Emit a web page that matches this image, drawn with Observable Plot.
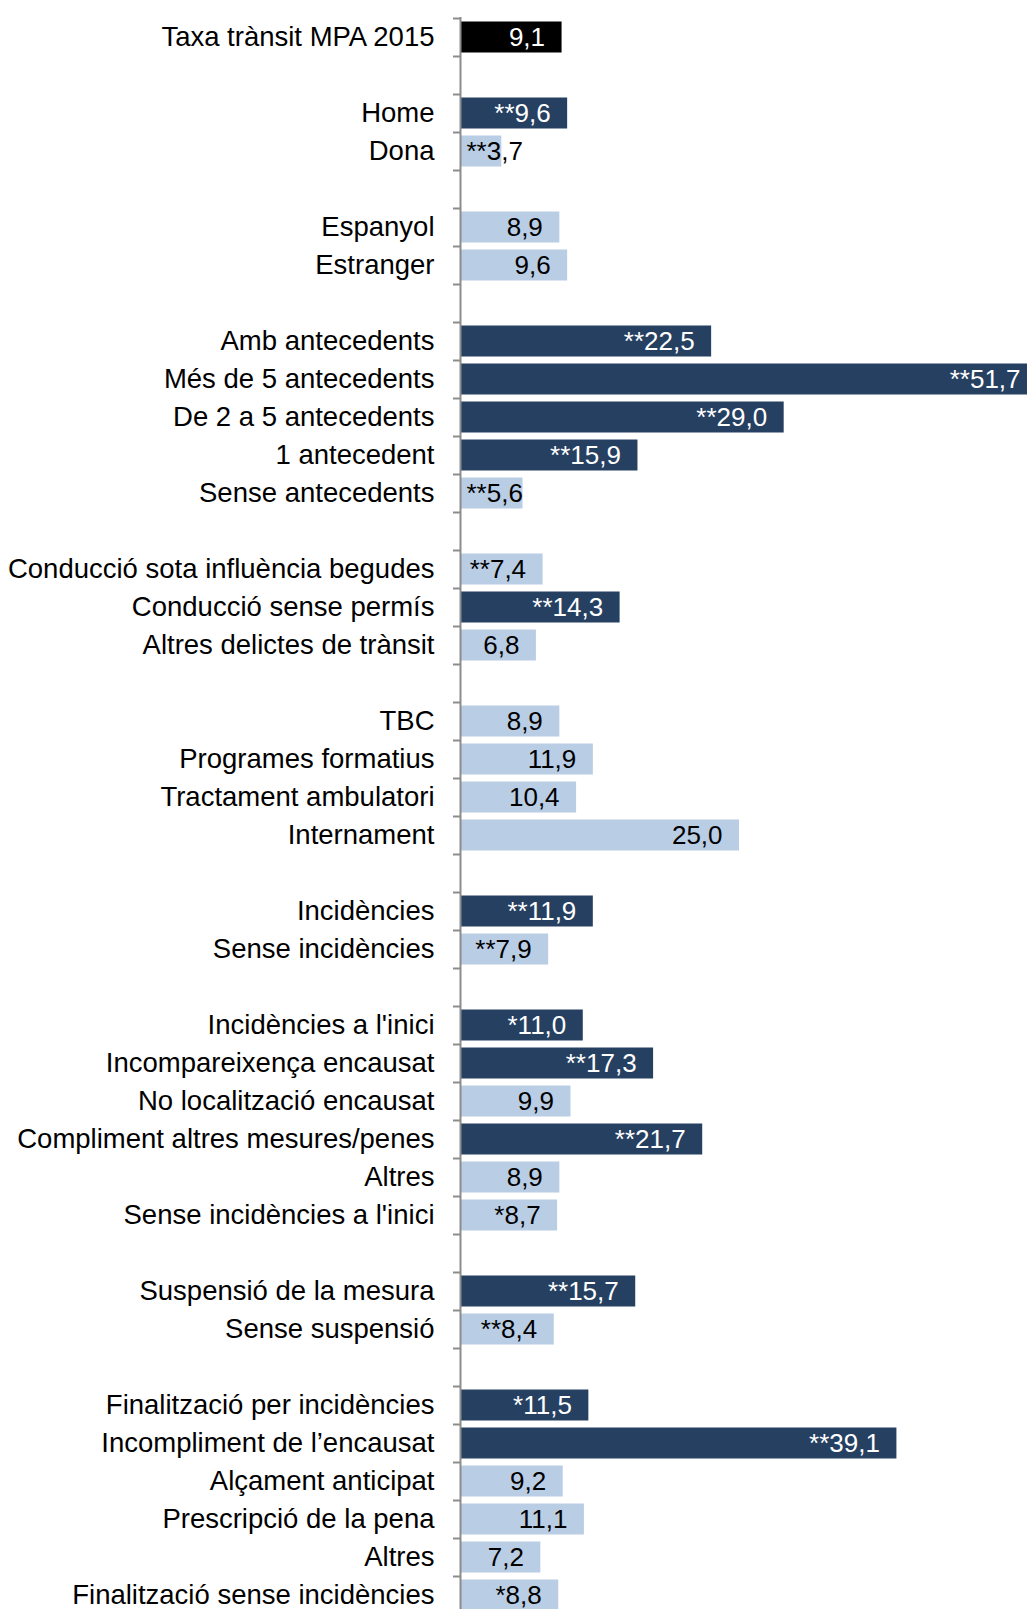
<!DOCTYPE html>
<html>
<head>
<meta charset="utf-8">
<script src="https://cdn.jsdelivr.net/npm/d3@7"></script>
<script src="https://cdn.jsdelivr.net/npm/@observablehq/plot@0.6"></script>
<style>
  html, body { margin: 0; padding: 0; background: #fff; }
  #chart { width: 1027px; height: 1609px; overflow: hidden; }
</style>
</head>
<body>
<div id="chart"></div>
<script>
// Categories in display order ("" = blank spacer row)
const labels = [
  "Taxa trànsit MPA 2015", "",
  "Home", "Dona", "",
  "Espanyol", "Estranger", "",
  "Amb antecedents", "Més de 5 antecedents", "De 2 a 5 antecedents", "1 antecedent", "Sense antecedents", "",
  "Conducció sota influència begudes", "Conducció sense permís", "Altres delictes de trànsit", "",
  "TBC", "Programes formatius", "Tractament ambulatori", "Internament", "",
  "Incidències", "Sense incidències", "",
  "Incidències a l'inici", "Incompareixença encausat", "No localització encausat", "Compliment altres mesures/penes", "Altres", "Sense incidències a l'inici", "",
  "Suspensió de la mesura", "Sense suspensió", "",
  "Finalització per incidències", "Incompliment de l’encausat", "Alçament anticipat", "Prescripció de la pena", "Altres", "Finalització sense incidències"
];
const values = [
  9.1, null,
  9.6, 3.7, null,
  8.9, 9.6, null,
  22.5, 51.7, 29.0, 15.9, 5.6, null,
  7.4, 14.3, 6.8, null,
  8.9, 11.9, 10.4, 25.0, null,
  11.9, 7.9, null,
  11.0, 17.3, 9.9, 21.7, 8.9, 8.7, null,
  15.7, 8.4, null,
  11.5, 39.1, 9.2, 11.1, 7.2, 8.8
];
// significance markers
const signif = [
  "", "",
  "**", "**", "",
  "", "", "",
  "**", "**", "**", "**", "**", "",
  "**", "**", "", "",
  "", "", "", "", "",
  "**", "**", "",
  "*", "**", "", "**", "", "*", "",
  "**", "**", "",
  "*", "**", "", "", "", "*"
];
// bar type: total / dark (significantly higher) / light
const kinds = [
  "total", "",
  "dark", "light", "",
  "light", "light", "",
  "dark", "dark", "dark", "dark", "light", "",
  "light", "dark", "light", "",
  "light", "light", "light", "light", "",
  "dark", "light", "",
  "dark", "dark", "light", "dark", "light", "light", "",
  "dark", "light", "",
  "dark", "dark", "light", "light", "light", "light"
];

const rows = labels.map((label, i) => ({
  idx: String(i), label, value: values[i], sig: signif[i], kind: kinds[i]
}));
const bars = rows.filter(d => d.value != null);
const fmt = v => d3.format(".1f")(v).replace(".", ",");

const colorMap = {total: "#000000", dark: "#264062", light: "#b9cde5"};

const chart = Plot.plot({
  width: 1027,
  height: 1609,
  marginLeft: 460,
  marginRight: 0,
  marginTop: 17,
  marginBottom: -5,
  style: {fontFamily: "'Liberation Sans', Arial, sans-serif", fontSize: "26px", overflow: "hidden", background: "#fff"},
  x: {domain: [0, 50.8], axis: null},
  y: {domain: rows.map(d => d.idx), padding: 0, label: null},
  marks: [
    Plot.barX(bars, {
      x: "value", y: "idx",
      fill: d => colorMap[d.kind],
      insetTop: 3.5, insetBottom: 3.5
    }),
    Plot.ruleY(rows, {y: "idx", x1: -0.63, x2: 0, dy: -19, stroke: "#8c8c8c", strokeWidth: 2}),
    Plot.ruleX([0], {stroke: "#8c8c8c", strokeWidth: 2}),
    Plot.axisY({
      tickSize: 0, tickPadding: 26, fontSize: 27.5, label: null,
      tickFormat: i => labels[+i], fill: "#000"
    }),
    Plot.text(bars.filter(d => d.value >= 6), {
      x: "value", y: "idx",
      text: d => d.sig + fmt(d.value),
      textAnchor: "end", dx: -17, fontSize: 26,
      fill: d => d.kind === "light" ? "#000" : "#fff"
    }),
    Plot.text(bars.filter(d => d.value < 6), {
      x: 0, y: "idx",
      text: d => d.sig + fmt(d.value),
      textAnchor: "start", dx: 6, fontSize: 26,
      fill: "#000"
    })
  ]
});
document.getElementById("chart").appendChild(chart);
</script>
</body>
</html>
